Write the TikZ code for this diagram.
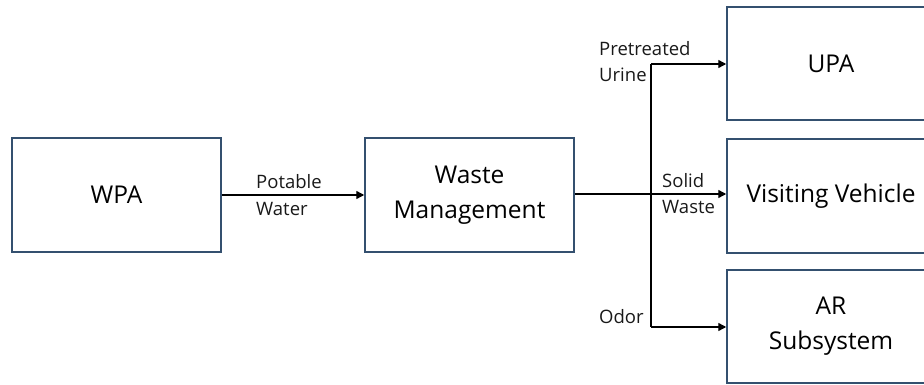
\documentclass[tikz,border=0pt]{standalone}
\usepackage{fontspec}
\setmainfont{Open Sans}
\usetikzlibrary{arrows.meta}
\definecolor{boxline}{HTML}{34506F}
\begin{document}
\begin{tikzpicture}[x=1pt,y=-1pt,
  block/.style={draw=boxline,line width=1.5pt,fill=white,inner sep=0pt,
    font=\fontsize{24.5}{35}\selectfont,align=center},
  lbl/.style={font=\fontsize{18.5}{22}\selectfont,inner sep=0pt,anchor=base west,text=black!90},
  conn/.style={line width=1.4pt,black},
  arr/.style={conn,-{Triangle[length=8pt,width=8pt]}}]
\useasboundingbox (0,0) rectangle (924,385);
\clip (0,0) rectangle (924,385);
\node[block,minimum width=209pt,minimum height=114pt] (wpa) at (116.5,195) {WPA};
\node[block,minimum width=209pt,minimum height=114pt] (wm) at (469.5,195) {Waste\\Management};
\node[block,minimum width=208pt,minimum height=113pt] (upa) at (831,63.5) {UPA};
\node[block,minimum width=208pt,minimum height=114pt] (vv) at (831,196) {Visiting Vehicle};
\node[block,minimum width=208pt,minimum height=113pt] (ar) at (831,326.5) {AR\\Subsystem};
\coordinate (br) at (651,194);
\coordinate (tp) at (651,64);
\coordinate (bt) at (651,327);
\draw[arr] (wpa.east) -- (wm.west);
\draw[conn] (wm.east |- br) -- (br);
\draw[arr] (br) -- (br -| vv.west);
\draw[conn] (tp) -- (bt);
\draw[arr] (tp) -- (tp -| upa.west);
\draw[arr] (bt) -- (bt -| ar.west);
\node[lbl] (l1) at (256,189) {Potable};
\node[lbl] (l2) at (256,215) {Water};
\node[lbl] (l3) at (599,56) {Pretreated};
\node[lbl] (l4) at (599,82) {Urine};
\node[lbl] (l5) at (662,187) {Solid};
\node[lbl] (l6) at (662,213) {Waste};
\node[lbl] (l7) at (599,323) {Odor};
\end{tikzpicture}
\end{document}
